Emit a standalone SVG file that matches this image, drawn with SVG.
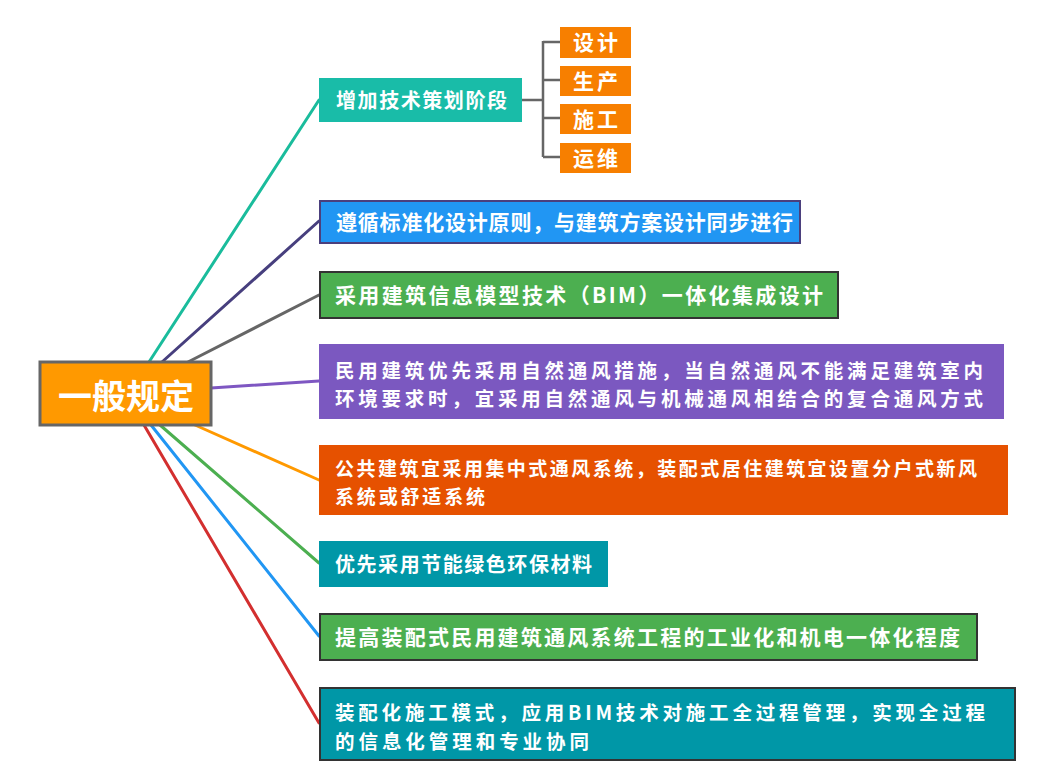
<svg xmlns="http://www.w3.org/2000/svg" width="1049" height="780" viewBox="0 0 1049 780">
<style>
  .t { font-family: "Noto Sans CJK SC", "Noto Sans", sans-serif; font-weight: 700; font-size: 21px; fill: #ffffff; }
  .s { font-size: 20px; }
  .m { font-size: 19.5px; }
  .ms { font-size: 19px; }
  .root { font-size: 34px; }
  .conn { fill: none; stroke-width: 3; stroke-linecap: round; }
  .sub { fill: none; stroke: #666666; stroke-width: 2.5; }
</style>
<rect width="1049" height="780" fill="#ffffff"/>
<g id="connectors">
  <line class="conn" stroke="#1ABC9C" x1="149" y1="362" x2="319" y2="100"/>
  <line class="conn" stroke="#473F7E" x1="162" y1="362" x2="319" y2="221"/>
  <line class="conn" stroke="#666666" x1="188" y1="362" x2="319" y2="295"/>
  <line class="conn" stroke="#7E57C2" x1="211" y1="388" x2="319" y2="381"/>
  <line class="conn" stroke="#FF9900" x1="195" y1="425" x2="319" y2="480"/>
  <line class="conn" stroke="#4CAF50" x1="160" y1="425" x2="319" y2="563"/>
  <line class="conn" stroke="#2196F3" x1="151" y1="425" x2="319" y2="636"/>
  <line class="conn" stroke="#D32F2F" x1="144" y1="425" x2="319" y2="723"/>
  <path class="sub" d="M522 100 H543 M543 41 V157 M543 42 H560 M543 80 H560 M543 118 H560 M543 157 H560"/>
</g>
<g id="root">
  <rect x="40" y="362" width="171" height="63" fill="#FF9900" stroke="#666666" stroke-width="3"/>
  <text class="t root" x="58" y="408.5" textLength="136" lengthAdjust="spacing">一般规定</text>
</g>
<g id="n1">
  <rect x="319" y="78" width="203" height="44" fill="#19BCA8"/>
  <text class="t s" x="336" y="107.5" textLength="171" lengthAdjust="spacing">增加技术策划阶段</text>
</g>
<g id="n1a">
  <rect x="560" y="27" width="71" height="31" fill="#F77F00"/>
  <text class="t" x="573" y="50" textLength="45" lengthAdjust="spacing">设计</text>
</g>
<g id="n1b">
  <rect x="560" y="66" width="71" height="30" fill="#F77F00"/>
  <text class="t" x="573" y="88.5" textLength="45" lengthAdjust="spacing">生产</text>
</g>
<g id="n1c">
  <rect x="560" y="104" width="71" height="30" fill="#F77F00"/>
  <text class="t" x="573" y="126.5" textLength="45" lengthAdjust="spacing">施工</text>
</g>
<g id="n1d">
  <rect x="560" y="143" width="71" height="30" fill="#F77F00"/>
  <text class="t" x="573" y="165.5" textLength="45" lengthAdjust="spacing">运维</text>
</g>
<g id="n2">
  <rect x="320" y="201" width="480" height="42" fill="#2196F3" stroke="#4B3F7D" stroke-width="2"/>
  <text class="t" x="336" y="229.5" textLength="457" lengthAdjust="spacing">遵循标准化设计原则，与建筑方案设计同步进行</text>
</g>
<g id="n3">
  <rect x="320" y="272" width="518" height="46" fill="#4CAF50" stroke="#333333" stroke-width="2"/>
  <text class="t" x="335" y="302.5" textLength="488" lengthAdjust="spacing">采用建筑信息模型技术（BIM）一体化集成设计</text>
</g>
<g id="n4">
  <rect x="319" y="344" width="685" height="75" fill="#7B58C0"/>
  <text class="t m"><tspan x="335" y="377.5" textLength="648" lengthAdjust="spacing">民用建筑优先采用自然通风措施，当自然通风不能满足建筑室内</tspan><tspan x="335" y="406" textLength="648" lengthAdjust="spacing">环境要求时，宜采用自然通风与机械通风相结合的复合通风方式</tspan></text>
</g>
<g id="n5">
  <rect x="319" y="445" width="689" height="70" fill="#E65100"/>
  <text class="t ms"><tspan x="335" y="475.5" textLength="642" lengthAdjust="spacing">公共建筑宜采用集中式通风系统，装配式居住建筑宜设置分户式新风</tspan><tspan x="335" y="503.5" textLength="150" lengthAdjust="spacing">系统或舒适系统</tspan></text>
</g>
<g id="n6">
  <rect x="319" y="541" width="289" height="46" fill="#0097A7"/>
  <text class="t s" x="335" y="571.5" textLength="257" lengthAdjust="spacing">优先采用节能绿色环保材料</text>
</g>
<g id="n7">
  <rect x="320" y="614" width="657" height="46" fill="#4CAF50" stroke="#333333" stroke-width="2"/>
  <text class="t" x="335" y="644.5" textLength="625" lengthAdjust="spacing">提高装配式民用建筑通风系统工程的工业化和机电一体化程度</text>
</g>
<g id="n8">
  <rect x="320" y="688" width="695" height="72" fill="#0097A7" stroke="#333333" stroke-width="2"/>
  <text class="t m"><tspan x="335" y="720" textLength="650" lengthAdjust="spacing">装配化施工模式，应用BIM技术对施工全过程管理，实现全过程</tspan><tspan x="335" y="748.5" textLength="254" lengthAdjust="spacing">的信息化管理和专业协同</tspan></text>
</g>
</svg>
